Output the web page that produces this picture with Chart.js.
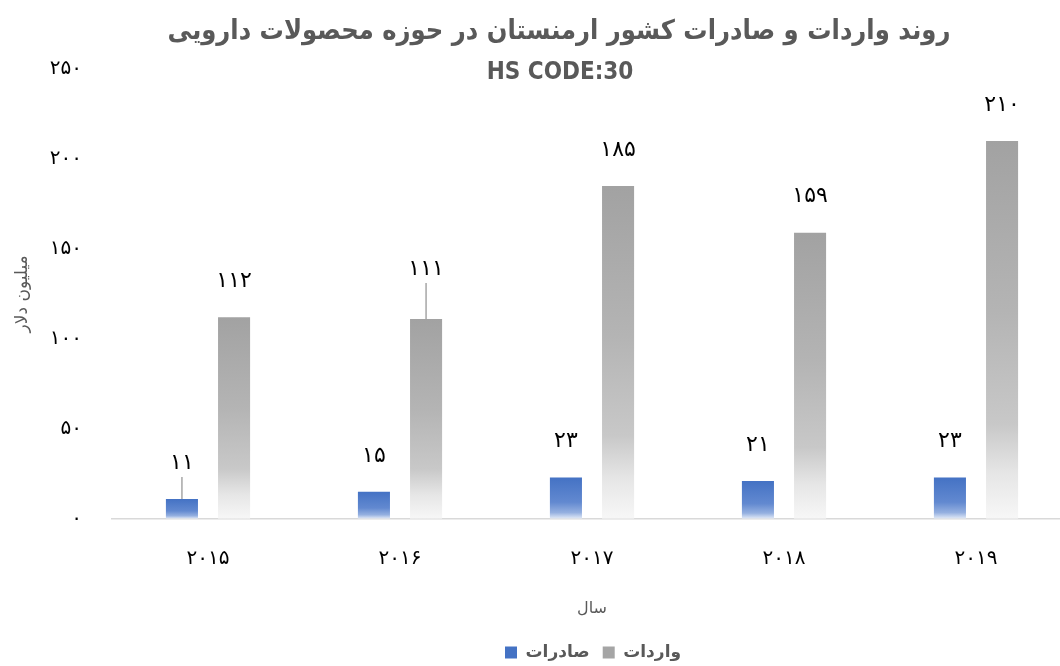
<!DOCTYPE html>
<html>
<head>
<meta charset="utf-8">
<script src="https://cdn.jsdelivr.net/npm/chart.js@4/dist/chart.umd.min.js"></script>
<style>
html,body{margin:0;padding:0;background:#fff;overflow:hidden;}
#wrap{width:1075px;height:666px;position:relative;}
</style>
</head>
<body>
<div id="wrap"><canvas id="c"></canvas></div>
<script>
const categories = ['۲۰۱۵', '۲۰۱۶', '۲۰۱۷', '۲۰۱۸', '۲۰۱۹'];
const exportsValues = [11, 15, 23, 21, 23];
const importsValues = [112, 111, 185, 159, 210];
const seriesNames = ['صادرات', 'واردات'];
const seriesColors = ['#4472c4', '#a5a5a5'];
const yTickValues = [0, 50, 100, 150, 200, 250];
const titleText = 'روند واردات و صادرات کشور ارمنستان در حوزه محصولات دارویی';
const subtitleText = 'HS CODE:30';
const yAxisTitle = 'میلیون دلار';
const xAxisTitle = 'سال';

const FA = '۰۱۲۳۴۵۶۷۸۹';
function toFa(n){ return String(n).replace(/[0-9]/g, d => FA[+d]); }

const FONT = "'DejaVu Sans', sans-serif";
const COND = "'DejaVu Sans Condensed', 'DejaVu Sans', sans-serif";

const blueStops = [[0,'#4472c4'],[0.6,'#6289d0'],[0.85,'#95b0e0'],[1,'#e4ebf7']];
const grayStops = [[0,'#a2a2a2'],[0.45,'#b4b4b4'],[0.75,'#c8c8c8'],[0.88,'#e6e6e6'],[1,'#f7f7f7']];

function grad(ctx, stops, solid){
  const chart = ctx.chart;
  if (ctx.type !== 'data' || !chart.chartArea || !chart.scales.y) return solid;
  const y = chart.scales.y;
  const top = y.getPixelForValue(ctx.raw);
  const base = y.getPixelForValue(0);
  if (!isFinite(top) || !isFinite(base) || top === base) return solid;
  const g = chart.ctx.createLinearGradient(0, top, 0, base);
  stops.forEach(s => g.addColorStop(s[0], s[1]));
  return g;
}

const titlePlugin = {
  id: 'customTitle',
  afterLayout(chart){
    const l = chart.legend;
    if (l) { l.left += 51; l.right += 51; l.top += 5; l.bottom += 5; }
  },
  afterDraw(chart){
    const c = chart.ctx;
    c.save();
    c.fillStyle = '#595959';
    c.textAlign = 'center';
    c.textBaseline = 'middle';
    c.font = "bold 27px " + COND;
    c.fillText(titleText, 559, 32);
    c.font = "bold 24px " + COND;
    c.fillText(subtitleText, 560, 73);
    c.restore();
  }
};

const labelPlugin = {
  id: 'barLabels',
  afterDatasetsDraw(chart, args, opts){
    const c = chart.ctx;
    c.save();
    c.font = "22px " + FONT;
    c.fillStyle = '#000';
    c.textAlign = 'center';
    c.textBaseline = 'middle';
    chart.data.datasets.forEach((ds, di) => {
      const meta = chart.getDatasetMeta(di);
      meta.data.forEach((bar, i) => {
        const key = di + '-' + i;
        const off = (opts.offsets && opts.offsets[key]) || opts.offset;
        const ly = bar.y - off;
        if (opts.leaders && opts.leaders.includes(key)) {
          c.strokeStyle = '#a6a6a6';
          c.lineWidth = 1.5;
          c.beginPath();
          c.moveTo(bar.x, ly + 14);
          c.lineTo(bar.x, bar.y);
          c.stroke();
        }
        c.fillText(toFa(ds.data[i]), bar.x, ly);
      });
    });
    c.restore();
  }
};

new Chart(document.getElementById('c'), {
  type: 'bar',
  data: {
    labels: categories,
    datasets: [
      {
        label: seriesNames[0],
        data: exportsValues,
        backgroundColor: ctx => grad(ctx, blueStops, seriesColors[0]),
        categoryPercentage: 0.543,
        barPercentage: 0.615
      },
      {
        label: seriesNames[1],
        data: importsValues,
        backgroundColor: ctx => grad(ctx, grayStops, seriesColors[1]),
        categoryPercentage: 0.543,
        barPercentage: 0.615
      }
    ]
  },
  options: {
    responsive: true,
    maintainAspectRatio: false,
    animation: false,
    layout: { padding: { top: 69, left: 12, right: 3, bottom: 0 } },
    plugins: {
      title: { display: false },
      tooltip: { enabled: false },
      legend: {
        position: 'bottom',
        labels: {
          boxWidth: 12,
          boxHeight: 12,
          color: '#595959',
          font: { family: FONT, size: 17, weight: 'bold' },
          padding: 13,
          generateLabels: chart => chart.data.datasets.map((ds, i) => ({
            text: ds.label,
            fillStyle: seriesColors[i],
            strokeStyle: seriesColors[i],
            lineWidth: 0,
            fontColor: '#595959',
            hidden: false,
            datasetIndex: i
          }))
        }
      },
      barLabels: {
        offset: 36,
        offsets: { '1-1': 50 },
        leaders: ['0-0', '1-1']
      }
    },
    scales: {
      x: {
        grid: { display: false, drawTicks: false },
        border: { color: '#d9d9d9', width: 1.5 },
        ticks: { color: '#000', font: { family: FONT, size: 20 }, padding: 28 },
        title: { display: true, text: xAxisTitle, color: '#595959', font: { family: FONT, size: 16 }, padding: { top: 0, bottom: 8 } }
      },
      y: {
        min: 0,
        max: 250,
        afterBuildTicks: axis => { axis.ticks = yTickValues.map(v => ({ value: v })); },
        afterFit: axis => { axis.width = 100; },
        grid: { display: false, drawTicks: false },
        border: { display: false },
        ticks: { color: '#000', font: { family: FONT, size: 20 }, padding: 30, callback: v => toFa(v) },
        title: { display: true, text: yAxisTitle, color: '#595959', font: { family: FONT, size: 17 }, padding: { top: 0, bottom: 0 } }
      }
    }
  },
  plugins: [titlePlugin, labelPlugin]
});
</script>
</body>
</html>
